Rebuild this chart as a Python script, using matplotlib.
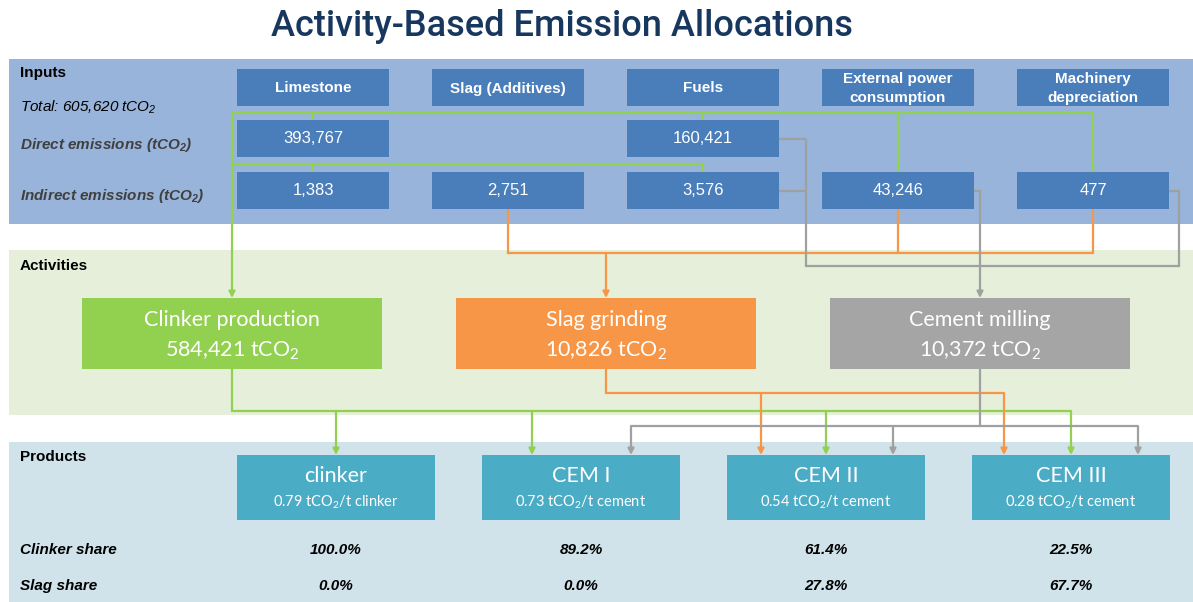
import matplotlib.pyplot as plt
from matplotlib.patches import Rectangle

plt.rcParams['mathtext.default'] = 'regular'

# ---- data ----
inputs = ['Limestone', 'Slag (Additives)', 'Fuels', 'External power\nconsumption', 'Machinery\ndepreciation']
direct = [393767, None, 160421, None, None]
indirect = [1383, 2751, 3576, 43246, 477]
total = 605620

activities = ['Clinker production', 'Slag grinding', 'Cement milling']
activity_co2 = [584421, 10826, 10372]

products = ['clinker', 'CEM I', 'CEM II', 'CEM III']
intensity = [0.79, 0.73, 0.54, 0.28]
intensity_unit = ['clinker', 'cement', 'cement', 'cement']
clinker_share = [100.0, 89.2, 61.4, 22.5]
slag_share = [0.0, 0.0, 27.8, 67.7]

# ---- colours ----
c_inband = '#98B4DA'
c_inbox = '#4A7EBB'
c_actband = '#E6EFDA'
c_prodband = '#D0E3EA'
c_prodbox = '#4BACC6'
c_green = '#92D050'
c_orange = '#F79646'
c_grey = '#A5A5A5'
c_line_grey = '#A0A0A0'
act_colors = [c_green, c_orange, c_grey]

ARIAL = ['Liberation Sans', 'DejaVu Sans']
CALI = ['Lato', 'DejaVu Sans']

fig = plt.figure(figsize=(11.93, 6.02), dpi=100)
ax = fig.add_axes([0, 0, 1, 1])
ax.set_xlim(0, 1193)
ax.set_ylim(602, 0)
ax.axis('off')


def box(xc, y0, w, h, color, z=3):
    ax.add_patch(Rectangle((xc - w / 2, y0), w, h, facecolor=color, edgecolor='none', zorder=z))


def path(xs, ys, color):
    ax.plot(xs, ys, color=color, lw=1.6, zorder=2, solid_capstyle='butt', solid_joinstyle='miter')


def arrow(x, y0, y1, color):
    ax.annotate('', xy=(x, y1), xytext=(x, y0),
                arrowprops=dict(arrowstyle='-|>', color=color, lw=1.6, mutation_scale=9,
                                shrinkA=0, shrinkB=0), zorder=2)


def label(x, y, s, **kw):
    ax.text(x, y, s, va='center', family=ARIAL, fontsize=11, color='black', **kw)


# title
ax.text(562, 26, 'Activity-Based Emission Allocations', ha='center', va='center',
        fontsize=26, color='#17375E', weight='medium', family=['Roboto', 'DejaVu Sans'])

# bands
ax.add_patch(Rectangle((9, 59), 1184, 165, facecolor=c_inband, edgecolor='none', zorder=0))
ax.add_patch(Rectangle((9, 250), 1184, 165, facecolor=c_actband, edgecolor='none', zorder=0))
ax.add_patch(Rectangle((9, 442), 1184, 160, facecolor=c_prodband, edgecolor='none', zorder=0))

# left labels
label(20, 73, 'Inputs', weight='bold')
label(20, 107, 'Total: {:,} tCO$_2$'.format(total), style='italic')
ax.text(20, 145, 'Direct emissions (tCO$_2$)', fontsize=11, style='italic', weight='bold',
        va='center', family=ARIAL, color='#404040')
ax.text(20, 196, 'Indirect emissions (tCO$_2$)', fontsize=11, style='italic', weight='bold',
        va='center', family=ARIAL, color='#404040')
label(20, 266, 'Activities', weight='bold')
label(20, 457, 'Products', weight='bold')
label(20, 550, 'Clinker share', style='italic', weight='bold')
label(20, 586, 'Slag share', style='italic', weight='bold')

# input boxes
in_x = [313 + i * 195 for i in range(len(inputs))]
in_w = 152
row_head, row_dir, row_ind, row_h = 69, 120, 172, 37
for i, name in enumerate(inputs):
    box(in_x[i], row_head, in_w, row_h, c_inbox)
    ax.text(in_x[i], row_head + row_h / 2 + 1, name, ha='center', va='center', color='white',
            fontsize=11, weight='bold', family=ARIAL, linespacing=1.4, zorder=4)
    if direct[i] is not None:
        box(in_x[i], row_dir, in_w, row_h, c_inbox)
        ax.text(in_x[i], row_dir + row_h / 2, '{:,}'.format(direct[i]), ha='center', va='center',
                color='white', fontsize=12, family=ARIAL, zorder=4)
    box(in_x[i], row_ind, in_w, row_h, c_inbox)
    ax.text(in_x[i], row_ind + row_h / 2, '{:,}'.format(indirect[i]), ha='center', va='center',
            color='white', fontsize=12, family=ARIAL, zorder=4)

# activity boxes
act_x = [232 + i * 374 for i in range(len(activities))]
act_w, act_y, act_h = 300, 298, 71
for i, name in enumerate(activities):
    box(act_x[i], act_y, act_w, act_h, act_colors[i])
    ax.text(act_x[i], act_y + 22, name, ha='center', va='center', color='white',
            fontsize=15.5, family=CALI, zorder=4)
    ax.text(act_x[i], act_y + 53, '{:,} tCO$_2$'.format(activity_co2[i]), ha='center', va='center',
            color='white', fontsize=15.5, family=CALI, zorder=4)

# product boxes
pr_x = [336 + i * 245 for i in range(len(products))]
pr_w, pr_y, pr_h = 198, 455, 65
for i, name in enumerate(products):
    box(pr_x[i], pr_y, pr_w, pr_h, c_prodbox)
    ax.text(pr_x[i], pr_y + 21, name, ha='center', va='center', color='white',
            fontsize=15.5, family=CALI, zorder=4)
    ax.text(pr_x[i], pr_y + 47, '{:.2f} tCO$_2$/t {}'.format(intensity[i], intensity_unit[i]),
            ha='center', va='center', color='white', fontsize=10.5, family=CALI, zorder=4)
    label(pr_x[i], 550, '{:.1f}%'.format(clinker_share[i]), ha='center', style='italic', weight='bold')
    label(pr_x[i], 586, '{:.1f}%'.format(slag_share[i]), ha='center', style='italic', weight='bold')

# ---- connectors: inputs -> activities ----
y_g1, y_g2 = 113, 164
path([act_x[0], in_x[4]], [y_g1, y_g1], c_green)
path([act_x[0], in_x[2]], [y_g2, y_g2], c_green)
for k in (0, 2):
    path([in_x[k], in_x[k]], [y_g1, row_dir], c_green)
    path([in_x[k], in_x[k]], [y_g2, row_ind], c_green)
for k in (3, 4):
    path([in_x[k], in_x[k]], [y_g1, row_ind], c_green)
path([act_x[0], act_x[0]], [y_g1, 280], c_green)
arrow(act_x[0], 279, act_y, c_green)

y_o = 253
bot = row_ind + row_h
path([in_x[1], in_x[1], in_x[4], in_x[4]], [bot, y_o, y_o, bot], c_orange)
path([in_x[3], in_x[3]], [bot, y_o], c_orange)
arrow(act_x[1], y_o, act_y, c_orange)

y_gr = 266
right = in_x[2] + in_w / 2
x_gr1 = right + 27
path([right, x_gr1], [row_dir + row_h / 2] * 2, c_line_grey)
path([right, x_gr1], [row_ind + row_h / 2] * 2, c_line_grey)
x_gr2 = in_x[4] + in_w / 2 + 10
path([x_gr1, x_gr1, x_gr2, x_gr2, in_x[4] + in_w / 2],
     [row_dir + row_h / 2, y_gr, y_gr, row_ind + row_h / 2, row_ind + row_h / 2], c_line_grey)
path([in_x[3] + in_w / 2, act_x[2], act_x[2]], [row_ind + row_h / 2, row_ind + row_h / 2, 280],
     c_line_grey)
arrow(act_x[2], 279, act_y, c_line_grey)

# ---- connectors: activities -> products ----
act_bot = act_y + act_h
g_targets = [pr_x[0], pr_x[1] - 49, pr_x[2], pr_x[3]]
o_targets = [pr_x[2] - 65, pr_x[3] - 67]
gr_targets = [pr_x[1] + 50, pr_x[2] + 67, pr_x[3] + 67]

y_gb, y_ob, y_grb = 411, 393, 426
path([act_x[0], act_x[0], g_targets[-1]], [act_bot, y_gb, y_gb], c_green)
for x in g_targets:
    arrow(x, y_gb, pr_y, c_green)
path([act_x[1], act_x[1], o_targets[-1]], [act_bot, y_ob, y_ob], c_orange)
for x in o_targets:
    arrow(x, y_ob, pr_y, c_orange)
path([act_x[2], act_x[2]], [act_bot, y_grb], c_line_grey)
path([gr_targets[0], gr_targets[-1]], [y_grb, y_grb], c_line_grey)
for x in gr_targets:
    arrow(x, y_grb, pr_y, c_line_grey)

fig.savefig('out.png', dpi=100)
